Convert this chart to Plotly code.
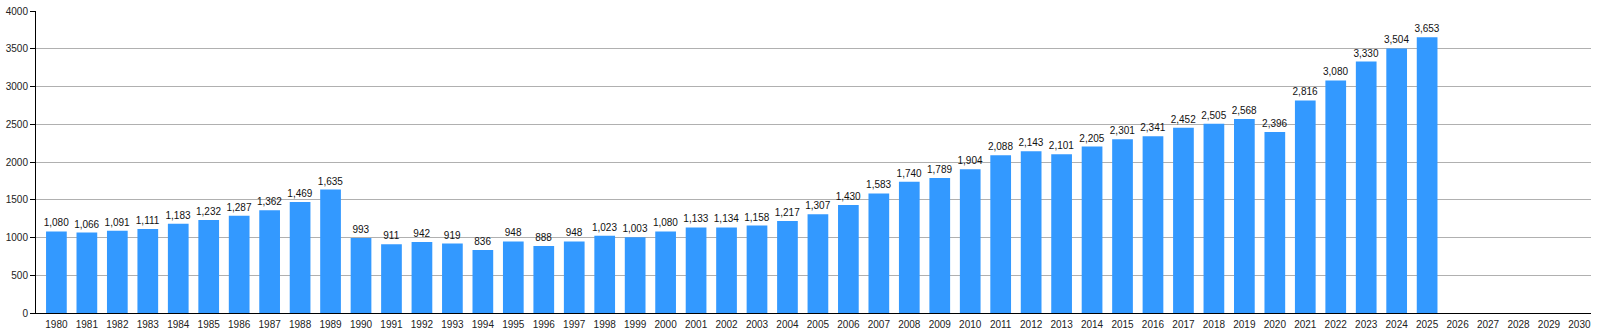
import plotly.graph_objects as go

years = [str(y) for y in range(1980, 2031)]
values = [
    1080, 1066, 1091, 1111, 1183, 1232, 1287, 1362, 1469, 1635,
    993, 911, 942, 919, 836, 948, 888, 948, 1023, 1003,
    1080, 1133, 1134, 1158, 1217, 1307, 1430, 1583, 1740, 1789,
    1904, 2088, 2143, 2101, 2205, 2301, 2341, 2452, 2505, 2568,
    2396, 2816, 3080, 3330, 3504, 3653,
    None, None, None, None, None,
]
y_ticks = [0, 500, 1000, 1500, 2000, 2500, 3000, 3500, 4000]

fig = go.Figure(
    go.Bar(
        x=years,
        y=values,
        marker=dict(color="#3399ff", line=dict(width=0)),
        texttemplate="%{y:,}",
        textposition="outside",
        constraintext="none",
        textfont=dict(size=10, color="#111111"),
        cliponaxis=False,
        hoverinfo="x+y",
    )
)

fig.update_layout(
    width=1600,
    height=330,
    margin=dict(l=36, r=9, t=10.5, b=17, autoexpand=False),
    paper_bgcolor="white",
    plot_bgcolor="white",
    bargap=0.32,
    showlegend=False,
    font=dict(family="Liberation Sans, Arial, sans-serif", size=10, color="#222222"),
)
fig.update_xaxes(
    type="category",
    range=[-0.67, 50.38],
    automargin=False,
    showline=True,
    linecolor="black",
    linewidth=1,
    showgrid=False,
    ticks="",
    tickfont=dict(size=10),
    ticklabelstandoff=2,
)
fig.update_yaxes(
    automargin=False,
    range=[0, 4000],
    tickvals=y_ticks,
    tickformat="d",
    showline=True,
    linecolor="black",
    linewidth=1,
    ticks="outside",
    ticklen=5,
    tickcolor="black",
    showgrid=True,
    gridcolor="#b0b0b0",
    gridwidth=1,
    zeroline=False,
    tickfont=dict(size=10),
)

fig.write_html("out.html")
